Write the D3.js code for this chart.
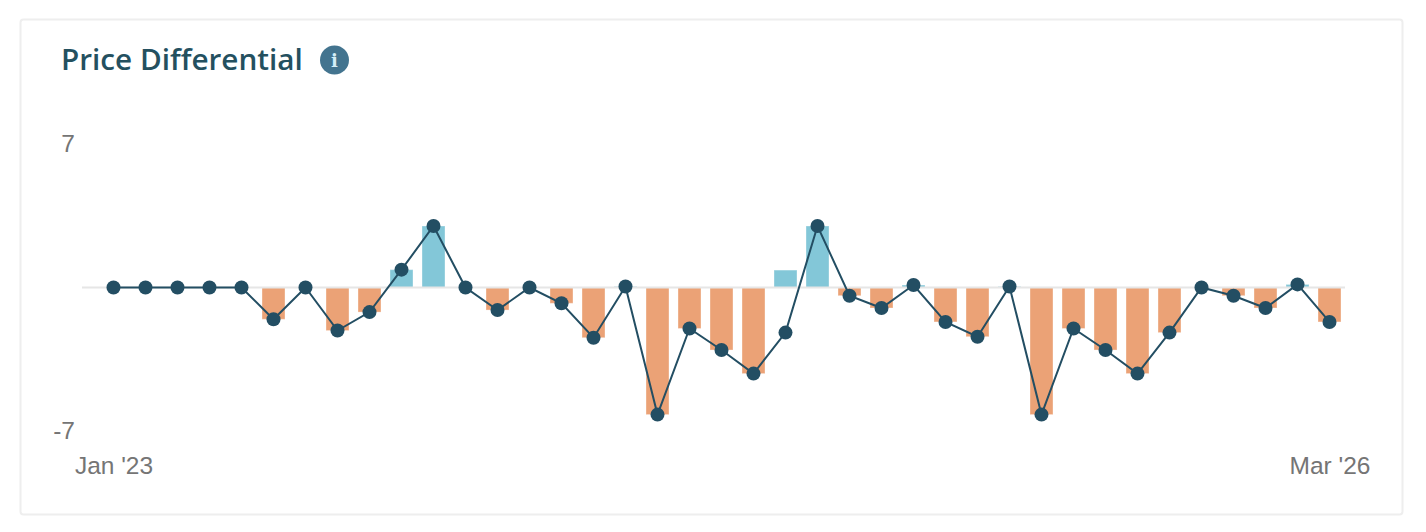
<!DOCTYPE html>
<html>
<head>
<meta charset="utf-8">
<script src="https://cdn.jsdelivr.net/npm/d3@7"></script>
<style>
    html, body { margin: 0; padding: 0; background: #fff; }
    svg { display: block; }
    .tick text { font-family: "Liberation Sans", Arial, sans-serif; font-size: 24.5px; fill: #757575; }
</style>
</head>
<body>
<div id="chart"></div>
<script>
(function(){
    // Data
    const months = [
        "Jan '23", "Feb '23", "Mar '23", "Apr '23", "May '23", "Jun '23", "Jul '23", "Aug '23", "Sep '23", "Oct '23", "Nov '23", "Dec '23",
        "Jan '24", "Feb '24", "Mar '24", "Apr '24", "May '24", "Jun '24", "Jul '24", "Aug '24", "Sep '24", "Oct '24", "Nov '24", "Dec '24",
        "Jan '25", "Feb '25", "Mar '25", "Apr '25", "May '25", "Jun '25", "Jul '25", "Aug '25", "Sep '25", "Oct '25", "Nov '25", "Dec '25",
        "Jan '26", "Feb '26", "Mar '26"
    ];
    const barValues = [
        0, 0, 0, 0, 0, -1.55, 0, -2.1, -1.2, 0.87, 3.0, 0,
        -1.1, 0, -0.77, -2.45, 0.05, -6.2, -2.0, -3.05, -4.2, 0.85, 3.0, -0.4,
        -1.0, 0.12, -1.68, -2.4, 0.05, -6.2, -2.0, -3.05, -4.2, -2.2, 0, -0.4,
        -1.0, 0.15, -1.68
    ];
    const lineValues = [
        0, 0, 0, 0, 0, -1.55, 0, -2.1, -1.2, 0.87, 3.0, 0,
        -1.1, 0, -0.77, -2.45, 0.05, -6.2, -2.0, -3.05, -4.2, -2.2, 3.0, -0.4,
        -1.0, 0.12, -1.68, -2.4, 0.05, -6.2, -2.0, -3.05, -4.2, -2.2, 0, -0.4,
        -1.0, 0.15, -1.68
    ];
    const yTicks = [7, -7];
    const xTicks = ["Jan '23", "Mar '26"];

    const svg = d3.select("#chart")
        .append("svg")
        .attr("width", 1426)
        .attr("height", 532);

    // Card
    svg.append("rect")
        .attr("x", 20.5)
        .attr("y", 19.5)
        .attr("width", 1382)
        .attr("height", 495)
        .attr("rx", 3)
        .attr("fill", "#fff")
        .attr("stroke", "#eeeeee")
        .attr("stroke-width", 2);

    // Title
    svg.append("text")
        .attr("x", 61)
        .attr("y", 70)
        .attr("font-family", "'Open Sans', sans-serif")
        .attr("font-size", 29.7)
        .attr("font-weight", 600)
        .attr("fill", "#24505f")
        .text("Price Differential");

    svg.append("circle")
        .attr("cx", 334.5)
        .attr("cy", 60)
        .attr("r", 14.5)
        .attr("fill", "#43748f");

    svg.append("text")
        .attr("x", 334.5)
        .attr("y", 66.5)
        .attr("text-anchor", "middle")
        .attr("font-family", "'DejaVu Serif', serif")
        .attr("font-size", 18)
        .attr("font-weight", "bold")
        .attr("fill", "#d5eef8")
        .text("i");

    const x = d3.scaleBand()
        .domain(months)
        .range([97.5, 1345.5])
        .paddingInner(9 / 32)
        .paddingOuter(4.5 / 32);

    const y = d3.scaleLinear()
        .domain([-7, 7])
        .range([431, 144]);

    const cx = d => x(d) + x.bandwidth() / 2;

    // Bars
    svg.append("g")
        .selectAll("rect")
        .data(months)
        .enter()
        .append("rect")
        .attr("x", d => x(d))
        .attr("width", x.bandwidth())
        .attr("y", (d, i) => y(Math.max(barValues[i], 0)))
        .attr("height", (d, i) => Math.abs(y(barValues[i]) - y(0)))
        .attr("fill", (d, i) => barValues[i] >= 0 ? "#83c7d8" : "#eba276")
        .attr("stroke", "#fff")
        .attr("stroke-opacity", 0.35);

    // Zero line
    svg.append("line")
        .attr("x1", 82)
        .attr("x2", 1345)
        .attr("y1", y(0))
        .attr("y2", y(0))
        .attr("stroke", "#e6e6e6")
        .attr("stroke-width", 2);

    // Axes
    svg.append("g")
        .attr("transform", "translate(75,0)")
        .call(d3.axisLeft(y).tickValues(yTicks).tickSize(0).tickPadding(0).tickFormat(d => String(d)))
        .call(g => g.select(".domain").remove());

    const xAxisScale = d3.scalePoint()
        .domain(months)
        .range([cx(months[0]), cx(months[months.length - 1])]);

    svg.append("g")
        .attr("transform", "translate(0,457)")
        .call(d3.axisBottom(xAxisScale).tickValues(xTicks).tickSize(0).tickPadding(0))
        .call(g => g.select(".domain").remove());

    // Line and points
    const line = d3.line()
        .x((d, i) => cx(months[i]))
        .y(d => y(d));

    svg.append("path")
        .datum(lineValues)
        .attr("fill", "none")
        .attr("stroke", "#234e63")
        .attr("stroke-width", 2)
        .attr("d", line);

    svg.append("g")
        .selectAll("circle")
        .data(lineValues)
        .enter()
        .append("circle")
        .attr("cx", (d, i) => cx(months[i]))
        .attr("cy", d => y(d))
        .attr("r", 7)
        .attr("fill", "#234e63");
})();
</script>
</body>
</html>
